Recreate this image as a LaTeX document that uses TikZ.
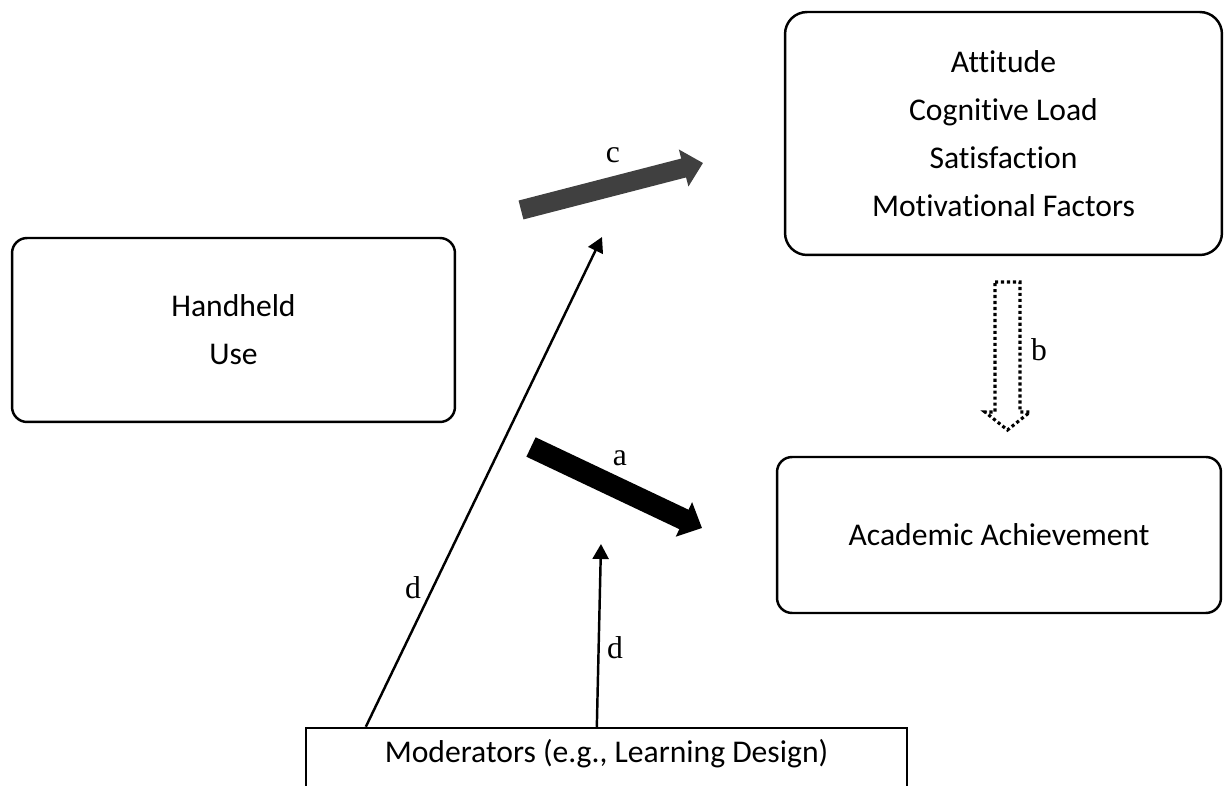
\documentclass[tikz,border=0pt]{standalone}
\usepackage{fontspec}
\setmainfont{Carlito}[Ligatures=NoCommon]
\newfontfamily\lblfont{Liberation Serif}
\usetikzlibrary{arrows.meta,positioning}
\definecolor{cdark}{RGB}{64,64,64}

\begin{document}
\begin{tikzpicture}[x=0.02cm,y=-0.02cm,font=\fontsize{18}{27.3}\selectfont,
    box/.style={draw,line width=1.4pt,rounded corners=0.3cm,align=center},
    lbl/.style={font=\lblfont\fontsize{18}{20}\selectfont},
    thinarr/.style={line width=1.4pt,-{Triangle[length=0.3cm,width=0.32cm]}},
    blockarr/.style={line width=#1,-{Triangle[length=0.4cm,width=0.74cm]}},
    dotline/.style={line width=1.8pt,dash pattern=on 1.8pt off 1.6pt}]
        \useasboundingbox (0,0) rectangle (1225,786);
        \clip (0,0) rectangle (1225,786);
        \node[box,minimum width=8.86cm,minimum height=3.68cm] (use) at (233.5,330) {Handheld\\Use};
        \node[box,rounded corners=0.44cm,minimum width=8.74cm,minimum height=4.86cm] (out) at (1003.5,133.5) {Attitude\\Cognitive Load\\Satisfaction\\Motivational Factors};
        \node[box,minimum width=8.88cm,minimum height=3.12cm] (ach) at (999,535) {Academic Achievement};
        \node[draw,line width=1.4pt,minimum width=12.02cm,text height=0.5cm,text depth=1cm,inner ysep=0.2cm,anchor=base] (mod) at (606.5,763) {Moderators (e.g., Learning Design)};
        \coordinate (cS) at (521,210); \coordinate (cE) at (703,163);
        \coordinate (aS) at (531,447); \coordinate (aE) at (702,528);
        \coordinate (dA) at (602,237); \coordinate (dB) at (601,544);
        \draw[blockarr=0.39cm,cdark] (cS) -- (cE);
        \draw[blockarr=0.43cm] (aS) -- (aE);
        \draw[thinarr] (mod.north west) ++(61,0) -- (dA);
        \draw[thinarr] (mod.north west) ++(292,0) -- (dB);
        \draw[dotline] (995,282) -- (1020,282) -- (1020,412) -- (1030,412) -- (1007.5,430) -- (985,412) -- (995,412) -- cycle;
        \node[lbl] (lc) at (613,155) {c};
        \node[lbl] (la) at (620,458) {a};
        \node[lbl] (lb) at (1039,350) {b};
        \node[lbl] (ld1) at (413,588) {d};
        \node[lbl] (ld2) at (615,648) {d};
      \end{tikzpicture}
\end{document}
